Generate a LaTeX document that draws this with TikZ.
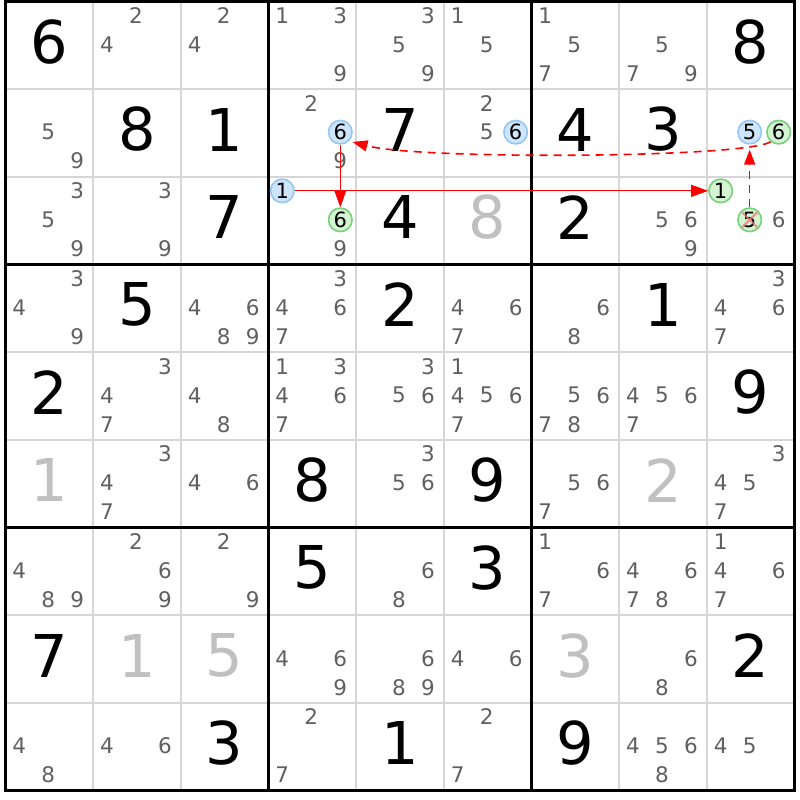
\documentclass[tikz,border=0pt]{standalone}
\usepackage{fontspec}
\setmainfont{DejaVu Sans}
\usetikzlibrary{arrows.meta}
\definecolor{candgray}{RGB}{96,96,96}
\definecolor{palegray}{RGB}{192,192,192}
\definecolor{thingray}{RGB}{214,214,214}
\definecolor{bluefill}{RGB}{206,230,252}
\definecolor{blueline}{RGB}{150,198,244}
\definecolor{greenfill}{RGB}{212,244,212}
\definecolor{greenline}{RGB}{120,208,120}
\definecolor{pinkx}{RGB}{240,120,120}
\definecolor{arrowred}{RGB}{255,0,0}
\def\X{5.3}
\def\Y{1.5}
\def\C{87.67}
\newcommand\givendigit[4][given]{\node[#1] (g#2#3) at ({\X+\C*(#3-0.5)},{\Y+\C*(#2-0.5)-3.5}) {#4};}
\newcommand\cands[3]{\foreach \d in {#3} {\pgfmathtruncatemacro\ci{mod(\d-1,3)}\pgfmathtruncatemacro\cj{(\d-1)/3}\node[cand] (c#1#2\d) at ({\X+\C*(#2-1)+14+29*\ci},{\Y+\C*(#1-1)+14+29*\cj}) {\d};}}
\newcommand\hcand[5]{\pgfmathtruncatemacro\ci{mod(#4-1,3)}\pgfmathtruncatemacro\cj{(#4-1)/3}\node[#1] (#5) at ({\X+\C*(#3-1)+14+29*\ci},{\Y+\C*(#2-1)+14+29*\cj}) {#4};}
\begin{document}
\begin{tikzpicture}[x=1pt,y=-1pt,
  given/.style={inner sep=0pt,font=\fontsize{59}{60}\selectfont,text=black},
  pale/.style={given,text=palegray},
  cand/.style={inner sep=0pt,font=\fontsize{21.5}{22}\selectfont,text=candgray},
  hbase/.style={circle,inner sep=0pt,minimum size=23.5pt,line width=1.6pt,font=\fontsize{21}{22}\selectfont,text=black},
  bluec/.style={hbase,draw=blueline,fill=bluefill},
  greenc/.style={hbase,draw=greenline,fill=greenfill},
  thinline/.style={draw=thingray,line width=2pt},
  thickline/.style={draw=black,line width=3pt},
  strong/.style={draw=arrowred,line width=1pt,-{Triangle[length=17pt,width=12pt]}},
  weak/.style={draw=arrowred,line width=1.6pt,dash pattern=on 8pt off 6pt,-{Triangle[length=15pt,width=11pt]}},
  xmark/.style={draw=pinkx,line width=2.2pt,opacity=0.75}
]
\useasboundingbox (0,0) rectangle (800,800);
\fill[white] (0,0) rectangle (800,800);
% grid
\foreach \i in {1,2,4,5,7,8} {
  \draw[thinline] ({\X+\C*\i},\Y) -- ({\X+\C*\i},{\Y+9*\C});
  \draw[thinline] (\X,{\Y+\C*\i}) -- ({\X+9*\C},{\Y+\C*\i});
}
\foreach \i in {0,3,6,9} {
  \draw[thickline] ({\X+\C*\i},{\Y-1.5}) -- ({\X+\C*\i},{\Y+9*\C+1.5});
  \draw[thickline] ({\X-1.5},{\Y+\C*\i}) -- ({\X+9*\C+1.5},{\Y+\C*\i});
}
% givens
\givendigit{1}{1}{6}\givendigit{1}{9}{8}
\givendigit{2}{2}{8}\givendigit{2}{3}{1}\givendigit{2}{5}{7}\givendigit{2}{7}{4}\givendigit{2}{8}{3}
\givendigit{3}{3}{7}\givendigit{3}{5}{4}\givendigit[pale]{3}{6}{8}\givendigit{3}{7}{2}
\givendigit{4}{2}{5}\givendigit{4}{5}{2}\givendigit{4}{8}{1}
\givendigit{5}{1}{2}\givendigit{5}{9}{9}
\givendigit[pale]{6}{1}{1}\givendigit{6}{4}{8}\givendigit{6}{6}{9}\givendigit[pale]{6}{8}{2}
\givendigit{7}{4}{5}\givendigit{7}{6}{3}
\givendigit{8}{1}{7}\givendigit[pale]{8}{2}{1}\givendigit[pale]{8}{3}{5}\givendigit[pale]{8}{7}{3}\givendigit{8}{9}{2}
\givendigit{9}{3}{3}\givendigit{9}{5}{1}\givendigit{9}{7}{9}
% candidates
\cands{1}{2}{2,4}\cands{1}{3}{2,4}\cands{1}{4}{1,3,9}\cands{1}{5}{3,5,9}\cands{1}{6}{1,5}\cands{1}{7}{1,5,7}\cands{1}{8}{5,7,9}
\cands{2}{1}{5,9}\cands{2}{4}{2,9}\cands{2}{6}{2,5}
\cands{3}{1}{3,5,9}\cands{3}{2}{3,9}\cands{3}{4}{9}\cands{3}{8}{5,6,9}\cands{3}{9}{6}
\cands{4}{1}{3,4,9}\cands{4}{3}{4,6,8,9}\cands{4}{4}{3,4,6,7}\cands{4}{6}{4,6,7}\cands{4}{7}{6,8}\cands{4}{9}{3,4,6,7}
\cands{5}{2}{3,4,7}\cands{5}{3}{4,8}\cands{5}{4}{1,3,4,6,7}\cands{5}{5}{3,5,6}\cands{5}{6}{1,4,5,6,7}\cands{5}{7}{5,6,7,8}\cands{5}{8}{4,5,6,7}
\cands{6}{2}{3,4,7}\cands{6}{3}{4,6}\cands{6}{5}{3,5,6}\cands{6}{7}{5,6,7}\cands{6}{9}{3,4,5,7}
\cands{7}{1}{4,8,9}\cands{7}{2}{2,6,9}\cands{7}{3}{2,9}\cands{7}{5}{6,8}\cands{7}{7}{1,6,7}\cands{7}{8}{4,6,7,8}\cands{7}{9}{1,4,6,7}
\cands{8}{4}{4,6,9}\cands{8}{5}{6,8,9}\cands{8}{6}{4,6}\cands{8}{8}{6,8}
\cands{9}{1}{4,8}\cands{9}{2}{4,6}\cands{9}{4}{2,7}\cands{9}{6}{2,7}\cands{9}{8}{4,5,6,8}\cands{9}{9}{4,5}
% highlighted candidates
\hcand{bluec}{2}{4}{6}{A6}
\hcand{bluec}{2}{6}{6}{D6}
\hcand{bluec}{3}{4}{1}{A1}
\hcand{greenc}{3}{4}{6}{E6}
\hcand{bluec}{2}{9}{5}{C5}
\hcand{greenc}{2}{9}{6}{G6}
\hcand{greenc}{3}{9}{1}{B1}
\hcand{greenc}{3}{9}{5}{B5}
% elimination mark
\draw[xmark] ([shift={(-7.5,-7.5)}]B5.center) -- ([shift={(7.5,7.5)}]B5.center);
\draw[xmark] ([shift={(7.5,-7.5)}]B5.center) -- ([shift={(-7.5,7.5)}]B5.center);
% links
\draw[strong] (A1) -- (B1);
\draw[strong] (A6) -- (E6);
\draw[weak,shorten >=3.5pt] (G6.230) .. controls (745,158) and (420,160) .. (A6.-45);
\draw[weak,shorten >=5pt] (B5) -- (C5);
\end{tikzpicture}
\end{document}
